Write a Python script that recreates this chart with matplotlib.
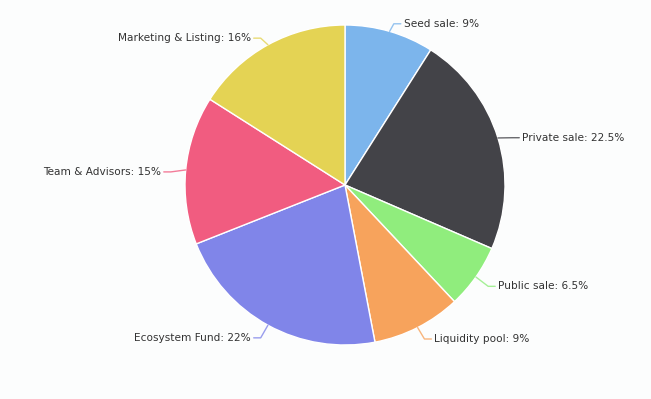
import numpy as np
import matplotlib
matplotlib.use("Agg")
import matplotlib.pyplot as plt

labels = ["Seed sale", "Private sale", "Public sale", "Liquidity pool",
          "Ecosystem Fund", "Team & Advisors", "Marketing & Listing"]
values = [9, 22.5, 6.5, 9, 22, 15, 16]
value_text = ["9", "22.5", "6.5", "9", "22", "15", "16"]
colors = ["#7cb5ec", "#434348", "#90ed7d", "#f7a35c", "#8085e9", "#f15c80", "#e4d354"]

W, H = 651, 399
fig = plt.figure(figsize=(W / 100, H / 100), dpi=100)
bg = "#fcfdfd"
fig.patch.set_facecolor(bg)
ax = fig.add_axes([0, 0, 1, 1])
ax.set_facecolor(bg)
ax.axis("off")

cx, cy, r = 345, H - 185, 160
ax.pie(values, colors=colors, startangle=90, counterclock=False,
       center=(cx, cy), radius=r,
       wedgeprops=dict(edgecolor="white", linewidth=1))
ax.set_xlim(0, W)
ax.set_ylim(0, H)
ax.set_aspect("auto")

total = sum(values)
cum = 0
Rx, Ry = 175, 171
for lab, v, vt, c in zip(labels, values, value_text, colors):
    mid = cum + v / 2
    cum += v
    th = np.deg2rad(90 - 360 * mid / total)
    ex, ey = cx + r * np.cos(th), cy + r * np.sin(th)
    ly = cy + Ry * np.sin(th)
    ly = min(max(ly, H - 336), H - 20) - 3
    bx = cx + Rx * np.cos(th)
    right = np.cos(th) >= 0
    sgn = 1 if right else -1
    tx = bx + sgn * 10
    ax.plot([ex, bx, tx - sgn * 3], [ey, ly, ly], color=c, lw=1, alpha=0.8,
            solid_capstyle="round")
    ax.text(tx, ly, f"{lab}: {vt}%", ha="left" if right else "right",
            va="center", fontsize=7.6, color="#333333", family="DejaVu Sans")

fig.savefig("out.png", dpi=100, facecolor=bg)
